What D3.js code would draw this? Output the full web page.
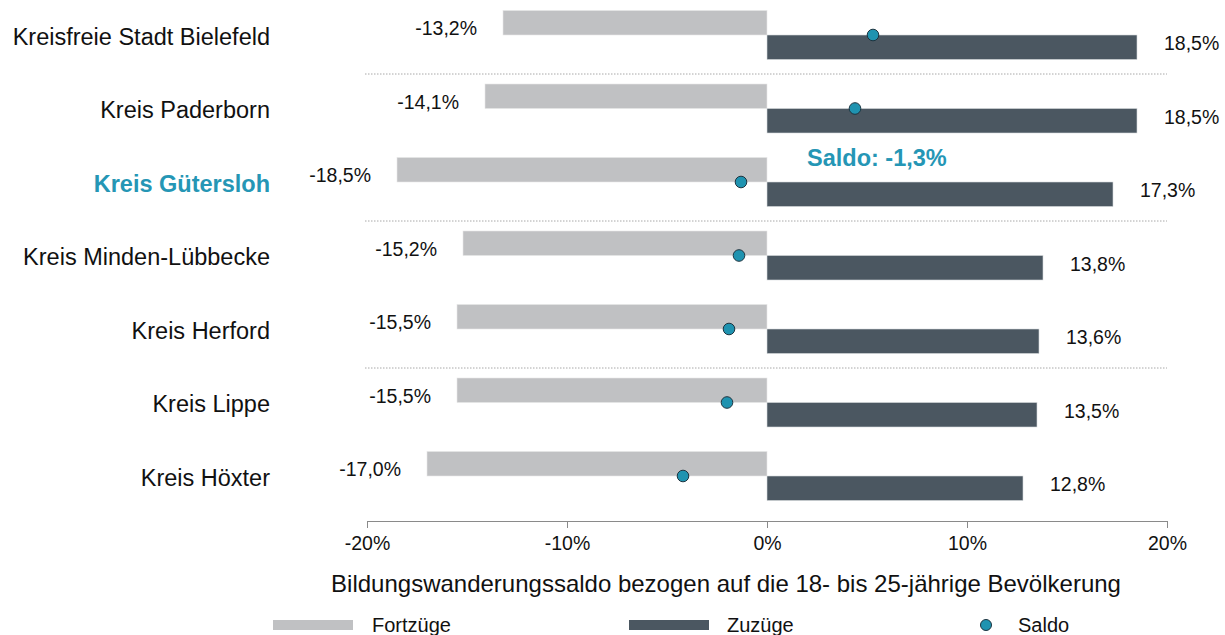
<!DOCTYPE html>
<html>
<head>
<meta charset="utf-8">
<script src="https://cdn.jsdelivr.net/npm/d3@7"></script>
<style>
  body { margin: 0; background: #fff; }
  svg { font-family: "Liberation Sans", Arial, sans-serif; }
</style>
</head>
<body>
<div id="chart"></div>
<script>
// data
var regions = ["Kreisfreie Stadt Bielefeld", "Kreis Paderborn", "Kreis Gütersloh",
               "Kreis Minden-Lübbecke", "Kreis Herford", "Kreis Lippe", "Kreis Höxter"];
var fortzuege = [-13.2, -14.1, -18.5, -15.2, -15.5, -15.5, -17.0];
var zuzuege   = [18.5, 18.5, 17.3, 13.8, 13.6, 13.5, 12.8];
var saldo     = [5.3, 4.4, -1.3, -1.4, -1.9, -2.0, -4.2];
var highlight = "Kreis Gütersloh";
var xTicks = [-20, -10, 0, 10, 20];
var separatorsAfter = ["Kreisfreie Stadt Bielefeld", "Kreis Gütersloh", "Kreis Herford"];
var legendItems = ["Fortzüge", "Zuzüge", "Saldo"];

var W = 1225, H = 635;
var GREY = "#c0c1c3", DARK = "#4b5761", TEAL = "#2596b5", DOT = "#1f93b0";
// german decimal comma, plain hyphen as minus sign
var fmt = function(v) { return d3.format(".1f")(v).replace("−", "-").replace(".", ",") + "%"; };

var svg = d3.select("#chart").append("svg").attr("width", W).attr("height", H);

var x = d3.scaleLinear().domain([-20, 20]).range([367, 1167]);
var step = 73.5;
var y = d3.scaleBand().domain(regions)
    .range([35 - step / 2, 35 - step / 2 + step * regions.length]);
var cy = function(r) { return y(r) + y.bandwidth() / 2; };
var barH = 24.5;

var rows = regions.map(function(r, i) {
    return { name: r, f: fortzuege[i], z: zuzuege[i], s: saldo[i] };
});

// dotted separators
svg.selectAll("line.sep").data(separatorsAfter).enter().append("line")
    .attr("class", "sep")
    .attr("x1", 365).attr("x2", 1167)
    .attr("y1", function(d) { return cy(d) + 39; })
    .attr("y2", function(d) { return cy(d) + 39; })
    .attr("stroke", "#a8a8a8").attr("stroke-width", 1)
    .attr("stroke-dasharray", "1.5,1.5");

// Fortzüge bars
svg.selectAll("rect.fort").data(rows).enter().append("rect")
    .attr("class", "fort")
    .attr("x", function(d) { return x(d.f); })
    .attr("width", function(d) { return x(0) - x(d.f); })
    .attr("y", function(d) { return cy(d.name) - barH; })
    .attr("height", barH)
    .attr("fill", GREY).attr("stroke", "#e6e6e6").attr("stroke-width", 0.6);

// Zuzüge bars
svg.selectAll("rect.zu").data(rows).enter().append("rect")
    .attr("class", "zu")
    .attr("x", x(0))
    .attr("width", function(d) { return x(d.z) - x(0); })
    .attr("y", function(d) { return cy(d.name); })
    .attr("height", barH)
    .attr("fill", DARK).attr("stroke", "#d8dadc").attr("stroke-width", 0.6);

// value labels
svg.selectAll("text.fl").data(rows).enter().append("text")
    .attr("class", "fl")
    .attr("x", function(d) { return x(d.f) - 26; })
    .attr("y", function(d) { return cy(d.name); })
    .attr("text-anchor", "end").attr("font-size", 19.5).attr("fill", "#111")
    .text(function(d) { return fmt(d.f); });

svg.selectAll("text.zl").data(rows).enter().append("text")
    .attr("class", "zl")
    .attr("x", function(d) { return x(d.z) + 27; })
    .attr("y", function(d) { return cy(d.name) + 15; })
    .attr("font-size", 19.5).attr("fill", "#111")
    .text(function(d) { return fmt(d.z); });

// saldo dots
svg.selectAll("circle.saldo").data(rows).enter().append("circle")
    .attr("class", "saldo")
    .attr("cx", function(d) { return x(d.s); })
    .attr("cy", function(d) { return cy(d.name); })
    .attr("r", 5.8)
    .attr("fill", DOT).attr("stroke", "#1c3440").attr("stroke-width", 1);

// saldo annotation for highlighted region
var hl = rows.filter(function(d) { return d.name === highlight; });
svg.selectAll("text.sa").data(hl).enter().append("text")
    .attr("class", "sa")
    .attr("x", x(0) + 40)
    .attr("y", function(d) { return cy(d.name) - 16; })
    .attr("font-size", 23.5).attr("font-weight", "bold").attr("fill", TEAL)
    .text(function(d) { return "Saldo: " + fmt(d.s); });

// category labels
svg.selectAll("text.cat").data(regions).enter().append("text")
    .attr("class", "cat")
    .attr("x", 270)
    .attr("y", function(d) { return cy(d) + 9.5; })
    .attr("text-anchor", "end").attr("font-size", 23.5)
    .attr("font-weight", function(d) { return d === highlight ? "bold" : "normal"; })
    .attr("fill", function(d) { return d === highlight ? TEAL : "#111"; })
    .text(function(d) { return d; });

// x axis
var axis = svg.append("g")
    .attr("transform", "translate(0,521)")
    .call(d3.axisBottom(x).tickValues(xTicks).tickSize(7).tickPadding(8)
        .tickFormat(function(d) { return d + "%"; }));
axis.select(".domain").attr("stroke", "#8a8a8a");
axis.selectAll(".tick line").attr("stroke", "#8a8a8a");
axis.selectAll(".tick text").attr("font-size", 19.5).attr("fill", "#111")
    .attr("font-family", "Liberation Sans, Arial, sans-serif");

svg.append("text")
    .attr("x", 726).attr("y", 592)
    .attr("text-anchor", "middle").attr("font-size", 24).attr("fill", "#111")
    .text("Bildungswanderungssaldo bezogen auf die 18- bis 25-jährige Bevölkerung");

// legend
var legX = [273, 629, 986];
var lg = svg.selectAll("g.leg").data(legendItems).enter().append("g")
    .attr("class", "leg")
    .attr("transform", function(d, i) { return "translate(" + legX[i] + ",625)"; });
lg.filter(function(d, i) { return i < 2; }).append("rect")
    .attr("x", 0).attr("y", -5).attr("width", 80).attr("height", 10)
    .attr("fill", function(d, i) { return i === 0 ? GREY : DARK; });
lg.filter(function(d, i) { return i === 2; }).append("circle")
    .attr("r", 5.5).attr("fill", DOT).attr("stroke", "#1c3440").attr("stroke-width", 1);
lg.append("text")
    .attr("x", function(d, i) { return i < 2 ? (i === 0 ? 99 : 98) : 32; })
    .attr("y", 6.5)
    .attr("font-size", 20).attr("fill", "#111")
    .text(function(d) { return d; });
</script>
</body>
</html>
